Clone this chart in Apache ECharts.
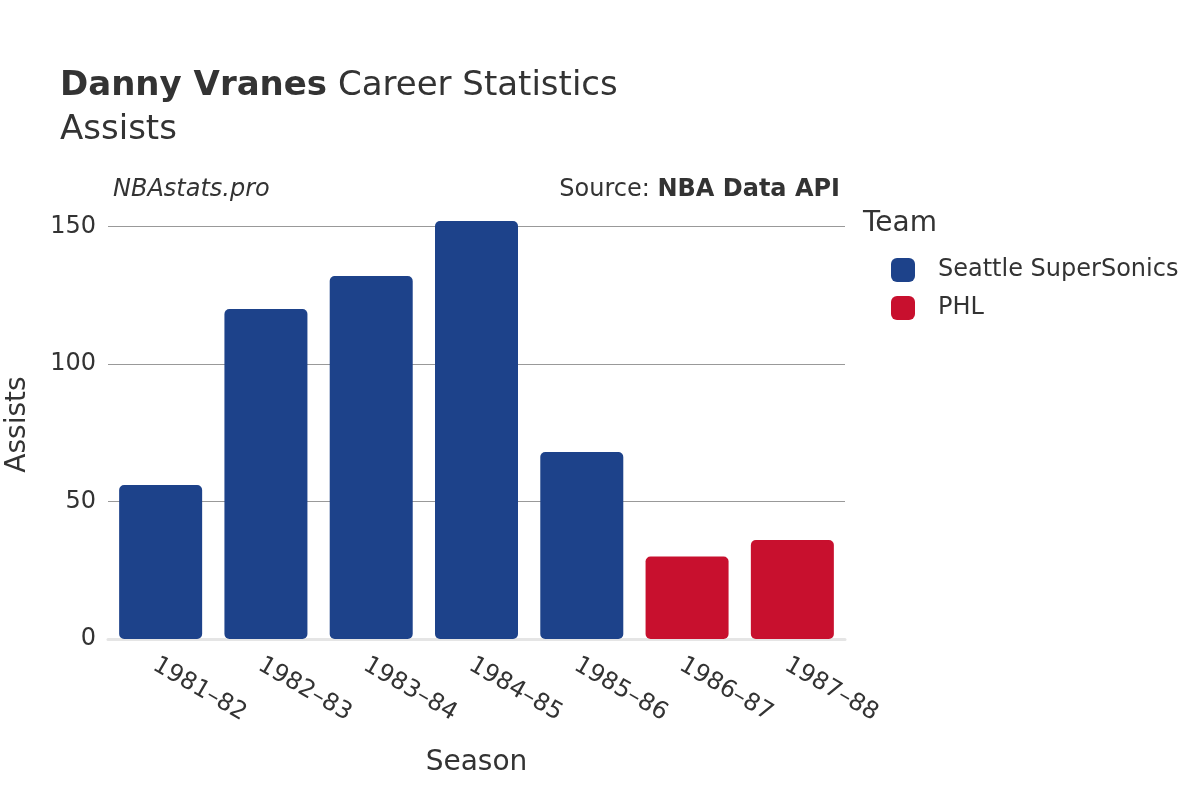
<!DOCTYPE html>
<html><head><meta charset="utf-8">
<script src="https://cdn.jsdelivr.net/npm/echarts@6/dist/echarts.min.js"></script>
<style>html,body{margin:0;padding:0;background:#fff}#c{width:1200px;height:800px}</style>
</head><body><div id="c"></div>
<script>
const seasons = ["1981–82","1982–83","1983–84","1984–85","1985–86","1986–87","1987–88"];
const sonics = [56,120,132,152,68,null,null];
const phl = [null,null,null,null,null,30,36];
const gridValues = [50,100,150];
const F = "'DejaVu Sans',sans-serif";
const chart = echarts.init(document.getElementById('c'));
chart.setOption({
  animation:false,
  textStyle:{fontFamily:F},
  graphic:[
    {type:'text',left:60,top:69,style:{rich:{b:{fontSize:34,fontWeight:'bold',fill:'#333',fontFamily:F},n:{fontSize:34,fill:'#333',fontFamily:F}},text:'{b|Danny Vranes}{n| Career Statistics}'}},
    {type:'text',left:60,top:113,style:{text:'Assists',fontSize:34,fill:'#333',fontFamily:F}},
    {type:'text',left:113,top:178,style:{text:'NBAstats.pro',fontSize:24,fontStyle:'italic',fill:'#333',fontFamily:F}},
    {type:'text',right:360,top:178,style:{rich:{n:{fontSize:24,fill:'#333',fontFamily:F},b:{fontSize:24,fontWeight:'bold',fill:'#333',fontFamily:F}},text:'{n|Source: }{b|NBA Data API}'}},
    {type:'text',left:863,top:210,style:{text:'Team',fontSize:28,fill:'#333',fontFamily:F}}
  ],
  legend:{orient:'vertical',left:886,top:253,itemWidth:24,itemHeight:24,itemGap:14,
    textStyle:{fontSize:24,color:'#333',padding:[0,0,0,18]},
    data:['Seattle SuperSonics','PHL'],itemStyle:{borderRadius:5}},
  grid:{left:108,right:355,top:210,bottom:161,containLabel:false,outerBoundsMode:'none'},
  xAxis:{type:'category',data:seasons,name:'Season',nameLocation:'middle',nameGap:110,
    nameTextStyle:{fontSize:28,color:'#333'},
    axisLine:{show:true,lineStyle:{color:'#e5e5e5',width:3}},axisTick:{show:false},
    axisLabel:{rotate:-30,fontSize:24,color:'#333',margin:14,align:'left',verticalAlign:'top'}},
  yAxis:{type:'value',min:0,max:156,interval:50,name:'Assists',nameLocation:'middle',nameGap:76,
    nameTextStyle:{fontSize:28,color:'#333'},
    splitLine:{show:false},
    axisLabel:{fontSize:24,color:'#333',margin:12,formatter:v=>v%50===0?v:''}},
  series:[
    {name:'Seattle SuperSonics',type:'bar',stack:'a',data:sonics,barWidth:83,itemStyle:{color:'#1d428a',borderRadius:5},z:3,
     markLine:{silent:true,symbol:'none',label:{show:false},lineStyle:{color:'#999',width:1,type:'solid'},z:1,
       data:gridValues.map(v=>({yAxis:v}))}},
    {name:'PHL',type:'bar',stack:'a',data:phl,barWidth:83,itemStyle:{color:'#c8102e',borderRadius:5},z:3}
  ]
});
</script></body></html>
